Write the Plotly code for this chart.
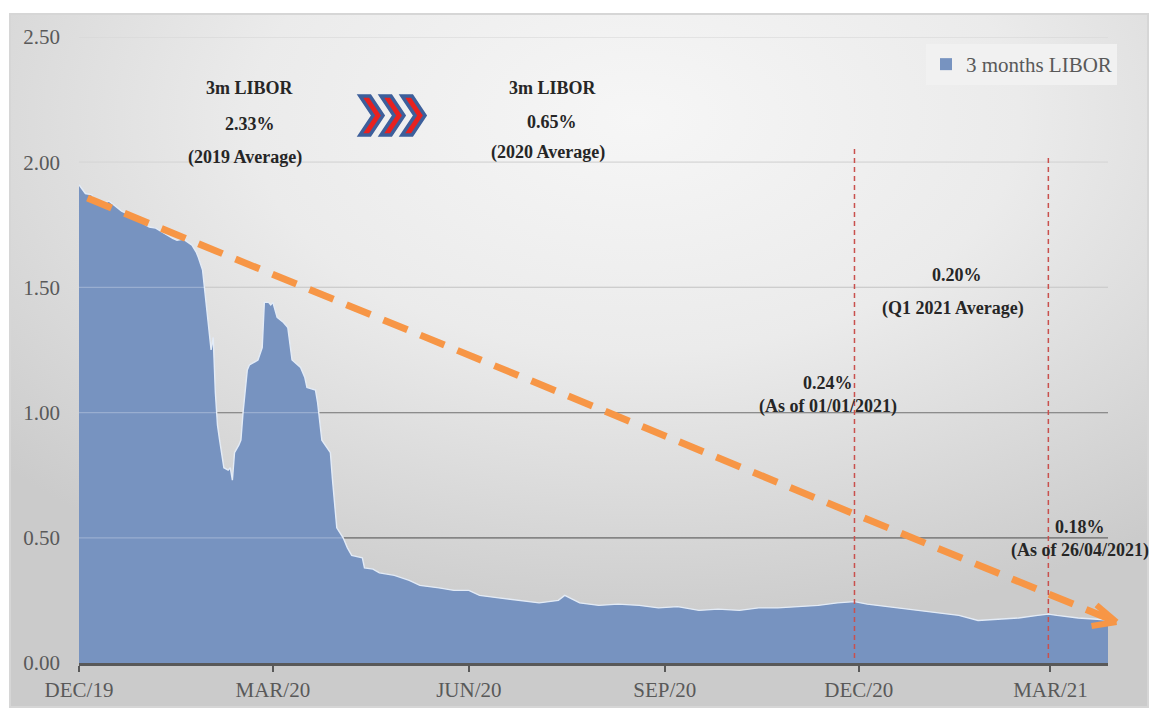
import base64
from datetime import date

import plotly.graph_objects as go

# 3-month USD LIBOR (%), sampled along the curve
dates = [
    "2019-12-01", "2019-12-04", "2019-12-07", "2019-12-08", "2019-12-14", "2019-12-15", "2019-12-21", "2019-12-23",
    "2020-01-03", "2020-01-06", "2020-01-14", "2020-01-16", "2020-01-19", "2020-01-23", "2020-01-25", "2020-01-26",
    "2020-01-28", "2020-01-29", "2020-01-30", "2020-02-01", "2020-02-02", "2020-02-03", "2020-02-04", "2020-02-05",
    "2020-02-07", "2020-02-09", "2020-02-10", "2020-02-11", "2020-02-12", "2020-02-14", "2020-02-15", "2020-02-16",
    "2020-02-18", "2020-02-19", "2020-02-23", "2020-02-25", "2020-02-26", "2020-02-28", "2020-02-29", "2020-03-01",
    "2020-03-03", "2020-03-06", "2020-03-08", "2020-03-10", "2020-03-14", "2020-03-16", "2020-03-17", "2020-03-21",
    "2020-03-22", "2020-03-24", "2020-03-28", "2020-03-29", "2020-03-31", "2020-04-03", "2020-04-05", "2020-04-07",
    "2020-04-12", "2020-04-13", "2020-04-17", "2020-04-20", "2020-04-27", "2020-05-04", "2020-05-09", "2020-05-18",
    "2020-05-25", "2020-06-01", "2020-06-06", "2020-06-15", "2020-06-25", "2020-07-04", "2020-07-13", "2020-07-16",
    "2020-07-23", "2020-08-01", "2020-08-10", "2020-08-20", "2020-08-29", "2020-09-07", "2020-09-17", "2020-09-26",
    "2020-10-06", "2020-10-15", "2020-10-24", "2020-11-03", "2020-11-12", "2020-11-21", "2020-11-29", "2020-12-05",
    "2020-12-10", "2020-12-20", "2020-12-29", "2021-01-07", "2021-01-17", "2021-01-26", "2021-02-04", "2021-02-14",
    "2021-02-23", "2021-02-28", "2021-03-04", "2021-03-14", "2021-03-23", "2021-03-28",
]
libor = [
    1.91, 1.875, 1.87, 1.85, 1.84, 1.845, 1.805, 1.797,
    1.741, 1.737, 1.696, 1.688, 1.693, 1.669, 1.641, 1.62,
    1.569, 1.50, 1.41, 1.25, 1.30, 1.08, 0.95, 0.89,
    0.78, 0.77, 0.78, 0.73, 0.84, 0.87, 0.89, 1.00,
    1.17, 1.19, 1.21, 1.26, 1.44, 1.44, 1.43, 1.44,
    1.38, 1.36, 1.34, 1.21, 1.18, 1.14, 1.10, 1.09,
    1.04, 0.89, 0.84, 0.73, 0.54, 0.50, 0.46, 0.43,
    0.42, 0.38, 0.375, 0.36, 0.35, 0.33, 0.31, 0.30,
    0.29, 0.29, 0.27, 0.26, 0.25, 0.24, 0.25, 0.27,
    0.24, 0.23, 0.235, 0.23, 0.22, 0.225, 0.21, 0.215,
    0.21, 0.22, 0.22, 0.225, 0.23, 0.24, 0.245, 0.235,
    0.23, 0.22, 0.21, 0.20, 0.19, 0.17, 0.175, 0.18,
    0.19, 0.195, 0.19, 0.18, 0.175, 0.172,
]

tick_dates = ["2019-12-01", "2020-03-01", "2020-06-01", "2020-09-01", "2020-12-01", "2021-03-01"]
tick_labels = ["DEC/19", "MAR/20", "JUN/20", "SEP/20", "DEC/20", "MAR/21"]
y_ticks = [0.0, 0.5, 1.0, 1.5, 2.0, 2.5]
grid_colors = [None, "#444444", "#666666", "#bcbcbc", "#cccccc", "#cccccc"]

avg_2019 = 2.33
avg_2020 = 0.65
avg_q1_2021 = 0.20
rate_2021_01_01 = 0.24
rate_2021_04_26 = 0.18

# reference dates marked with vertical dashed lines
marker_dates = ["2020-11-29", "2021-02-28"]
marker_tops = [2.057, 2.03]

# downward trend arrow (date, value)
trend_start = ("2019-12-05", 1.857)
trend_end = ("2021-04-01", 0.164)

X_RANGE = ["2019-12-01", "2021-03-28"]
Y_RANGE = [0, 2.5]

W, H = 1149, 708
ML, MR, MT, MB = 79, 41, 37, 45
PW, PH = W - ML - MR, H - MT - MB

SERIF = "Liberation Serif"
AREA = "#7793c0"


def xfrac(d):
    d0, d1 = date.fromisoformat(X_RANGE[0]), date.fromisoformat(X_RANGE[1])
    return (date.fromisoformat(d) - d0).days / (d1 - d0).days


def yfrac(v):
    return (v - Y_RANGE[0]) / (Y_RANGE[1] - Y_RANGE[0])


def px(x):
    return (x - ML) / PW


def py(y):
    return (H - MB - y) / PH


fig = go.Figure()

fig.add_trace(go.Scatter(
    x=dates, y=libor, mode="lines", fill="tozeroy",
    fillcolor=AREA, line=dict(color="#e3ebf6", width=1.4),
    showlegend=False, hoverinfo="x+y",
))
# legend entry with a square swatch
fig.add_trace(go.Bar(
    x=[None], y=[None], name="3 months LIBOR",
    marker=dict(color=AREA, line=dict(width=0)), showlegend=True,
))

shapes = []
# horizontal gridlines, each level with its own tone
for v, c in zip(y_ticks, grid_colors):
    if c is None:
        continue
    shapes.append(dict(type="line", xref="paper", yref="y", x0=0, x1=1, y0=v, y1=v,
                       line=dict(color=c, width=1.2), layer="below"))
# light sheen of gridlines across the filled area
for v, c in zip(y_ticks, grid_colors):
    if c is None:
        continue
    shapes.append(dict(type="line", xref="paper", yref="y", x0=0, x1=1, y0=v, y1=v,
                       line=dict(color="rgba(255,255,255,0.25)", width=1.2), layer="above"))

for d, top in zip(marker_dates, marker_tops):
    shapes.append(dict(type="line", xref="x", yref="y", x0=d, x1=d, y0=0.02, y1=top,
                       line=dict(color="#c9504d", width=1.5, dash="5px,4px"), layer="above"))

# trend arrow
sx, sy = xfrac(trend_start[0]), yfrac(trend_start[1])
ex, ey = xfrac(trend_end[0]), yfrac(trend_end[1])
shapes.append(dict(type="line", xref="paper", yref="paper", x0=sx, y0=sy, x1=ex, y1=ey,
                   line=dict(color="#f79646", width=7, dash="26px,14px"), layer="above"))
tip_px = (ML + ex * PW, H - MB - ey * PH)
for dx, dy in [(-20, -17), (-25, 4)]:
    shapes.append(dict(type="line", xref="paper", yref="paper",
                       x0=px(tip_px[0] + dx), y0=py(tip_px[1] + dy),
                       x1=px(tip_px[0]), y1=py(tip_px[1]),
                       line=dict(color="#f79646", width=6), layer="above"))

# three chevrons between the two averages
for x0 in [360, 381, 402]:
    a, d, top, bot = 10, 13, 96, 135
    mid = (top + bot) / 2
    pts = [(x0, top), (x0 + a, top), (x0 + a + d, mid), (x0 + a, bot), (x0, bot), (x0 + d, mid)]
    path = "M " + " L ".join(f"{px(x):.5f},{py(y):.5f}" for x, y in pts) + " Z"
    shapes.append(dict(type="path", xref="paper", yref="paper", path=path,
                       fillcolor="#e8211f", line=dict(color="#3d5f9b", width=3.5), layer="above"))

annotations = []


def label(text, x, y):
    annotations.append(dict(
        text=text, x=px(x), y=py(y), xref="paper", yref="paper",
        xanchor="center", yanchor="middle", showarrow=False,
        font=dict(family=SERIF, size=18, color="#262626", weight="bold"),
    ))


label("3m LIBOR", 250, 88)
label(f"{avg_2019:.2f}%", 250, 124)
label("(2019 Average)", 245, 157)
label("3m LIBOR", 553, 88)
label(f"{avg_2020:.2f}%", 552, 122)
label("(2020 Average)", 548, 153)
label(f"{avg_q1_2021:.2f}%", 957, 275)
label("(Q1 2021 Average)", 953, 308)
label(f"{rate_2021_01_01:.2f}%", 828, 383)
label("(As of 01/01/2021)", 828, 406)
label(f"{rate_2021_04_26:.2f}%", 1080, 527)
label("(As of 26/04/2021)", 1080, 550)

# panel background with soft radial shading
svg = (
    '<svg xmlns="http://www.w3.org/2000/svg" width="1140" height="695" viewBox="0 0 1140 695" '
    'preserveAspectRatio="none"><defs><radialGradient id="g" cx="0.55" cy="0.15" r="0.75">'
    '<stop offset="0" stop-color="#f6f6f6"/><stop offset="0.45" stop-color="#ebebeb"/>'
    '<stop offset="1" stop-color="#cbcbcb"/></radialGradient></defs>'
    '<rect x="1" y="1" width="1138" height="693" fill="url(#g)" stroke="#d6d6d6" stroke-width="2"/></svg>'
)
bg_src = "data:image/svg+xml;base64," + base64.b64encode(svg.encode()).decode()

fig.update_layout(
    width=W, height=H,
    margin=dict(l=ML, r=MR, t=MT, b=MB, pad=0, autoexpand=False),
    paper_bgcolor="white", plot_bgcolor="rgba(0,0,0,0)",
    shapes=shapes, annotations=annotations,
    images=[dict(source=bg_src, xref="paper", yref="paper", x=px(9), y=py(13),
                 sizex=1140 / PW, sizey=695 / PH, xanchor="left", yanchor="top",
                 sizing="stretch", layer="below")],
    legend=dict(x=px(1117), xanchor="right", y=py(44), yanchor="top",
                bgcolor="#f1f1f1", borderwidth=0,
                font=dict(family=SERIF, size=21, color="#595959")),
    xaxis=dict(type="date", range=X_RANGE, tickvals=tick_dates, ticktext=tick_labels,
               showgrid=False, zeroline=False, showline=True, linecolor="#595959", linewidth=3,
               ticks="outside", ticklen=6, tickwidth=2, tickcolor="#595959", automargin=False,
               tickfont=dict(family=SERIF, size=21, color="#595959"), layer="above traces"),
    yaxis=dict(range=Y_RANGE, tickvals=y_ticks, tickformat=".2f", showgrid=False, zeroline=False,
               showline=False, ticks="", ticklabelstandoff=18, automargin=False,
               tickfont=dict(family=SERIF, size=21, color="#595959")),
    showlegend=True,
)

fig.write_html("out.html")
